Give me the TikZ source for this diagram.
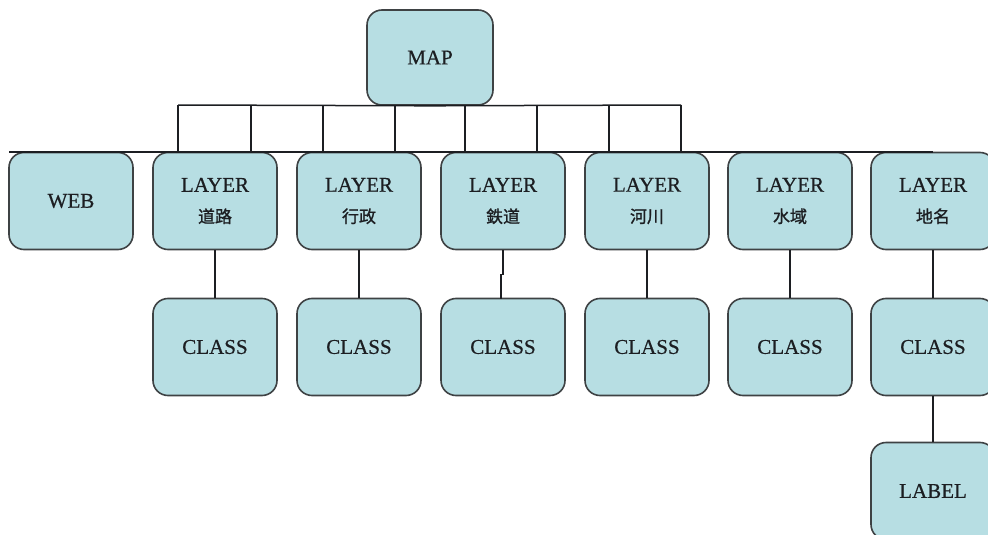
\documentclass[tikz,border=0pt]{standalone}
\usepackage{fontspec}
\setmainfont{Liberation Serif}[BoldFont=Liberation Serif, BoldFeatures={FakeBold=0.6}]
\newfontfamily\cjk{Noto Sans CJK SC}[BoldFont=Noto Sans CJK SC, BoldFeatures={FakeBold=1.2}]
\definecolor{boxfill}{RGB}{183,222,227}
\definecolor{boxedge}{RGB}{62,66,68}
\definecolor{ink}{RGB}{28,30,34}
\newcommand{\zh}[1]{{\cjk\fontsize{17}{31}\selectfont #1}}
\begin{document}
\begin{tikzpicture}[x=1pt,y=-1pt,
  box/.style={draw=boxedge, line width=1.6pt, fill=boxfill, rounded corners=15pt,
    minimum width=124pt, minimum height=97pt, inner sep=0pt, align=center,
    text=ink, font=\fontsize{21}{31}\selectfont\bfseries},
  link/.style={draw=ink, line width=1.5pt}]
\useasboundingbox (0,0) rectangle (988,535);

% root
\node[box, minimum width=126pt, minimum height=95pt] (map) at (430,57.5) {MAP};

% first level
\node[box] (web) at (71,201) {WEB};
\node[box] (l1) at (215,201) {LAYER\\\zh{道路}};
\node[box] (l2) at (359,201) {LAYER\\\zh{行政}};
\node[box] (l3) at (503,201) {LAYER\\\zh{鉄道}};
\node[box] (l4) at (647,201) {LAYER\\\zh{河川}};
\node[box] (l5) at (790,201) {LAYER\\\zh{水域}};
\node[box] (l6) at (933,201) {LAYER\\\zh{地名}};

% second level
\node[box] (c1) at (215,347) {CLASS};
\node[box] (c2) at (359,347) {CLASS};
\node[box] (c3) at (503,347) {CLASS};
\node[box] (c4) at (647,347) {CLASS};
\node[box] (c5) at (790,347) {CLASS};
\node[box] (c6) at (933,347) {CLASS};

% third level
\node[box] (lab) at (933,491) {LABEL};

% bus points
\foreach \i/\x in {1/178,2/251,3/323,4/395,5/465,6/537,7/609,8/681}{
  \coordinate (u\i) at (\x,105);
  \coordinate (d\i) at (\x,152);
}
\coordinate (busL) at (9,152);
\coordinate (busR) at (933,152);

% buses
\draw[link] (u1) -- (map.south) -- (u8);
\foreach \i in {1,...,8}{ \draw[link] (u\i) -- (d\i); }
\draw[link] (busL) -- (busR);

% layer to class
\foreach \i in {1,2,4,5,6}{ \draw[link] (l\i.south) -- (c\i.north); }
\draw[link] (l3.south) -- ++(0,24) -- ++(-2,0) -- ++(0,24.5);
\draw[link] (c6.south) -- (lab.north);
\end{tikzpicture}
\end{document}
